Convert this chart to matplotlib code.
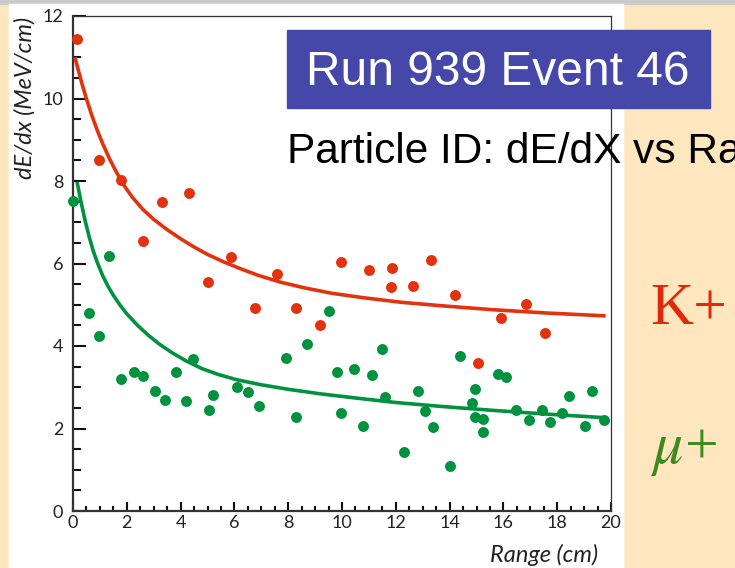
import matplotlib
matplotlib.use("Agg")
import matplotlib.pyplot as plt
from matplotlib.patches import Rectangle
from matplotlib.ticker import MultipleLocator

# measured points: range (cm), dE/dx (MeV/cm)
kaon_range = [0.15, 0.97, 1.78, 2.6, 3.3, 4.3, 5.0, 5.87, 6.77, 7.58, 8.3, 9.2,
              9.96, 11.0, 11.86, 11.83, 12.64, 13.3, 14.2, 15.06, 15.9, 16.84, 17.55]
kaon_dedx = [11.44, 8.5, 8.02, 6.55, 7.49, 7.71, 5.55, 6.16, 4.92, 5.75, 4.92, 4.5,
             6.04, 5.84, 5.89, 5.43, 5.45, 6.08, 5.24, 3.59, 4.68, 5.02, 4.32]

muon_range = [0.0, 0.6, 0.97, 1.34, 1.78, 2.27, 2.6, 3.05, 3.42, 3.83, 4.2, 4.46,
              5.06, 5.2, 6.1, 6.5, 6.9, 7.9, 8.3, 8.7, 9.52, 9.8, 9.96, 10.45,
              10.78, 11.1, 11.5, 11.6, 12.3, 12.83, 13.1, 13.38, 14.0, 14.4, 14.83,
              14.94, 14.94, 15.24, 15.24, 15.8, 16.1, 16.47, 16.95, 17.43, 17.73,
              18.18, 18.44, 19.03, 19.3, 19.74]
muon_dedx = [7.52, 4.8, 4.24, 6.18, 3.2, 3.37, 3.27, 2.91, 2.69, 3.37, 2.67, 3.68,
             2.45, 2.81, 3.0, 2.88, 2.55, 3.71, 2.28, 4.05, 4.85, 3.37, 2.38, 3.44,
             2.06, 3.3, 3.93, 2.76, 1.43, 2.91, 2.42, 2.04, 1.09, 3.76, 2.62,
             2.96, 2.28, 2.23, 1.92, 3.32, 3.25, 2.45, 2.2, 2.45, 2.16,
             2.38, 2.79, 2.06, 2.91, 2.2]

# expected range-energy curves
kaon_curve_x = [0.07, 0.2, 0.35, 0.5, 0.7, 0.9, 1.1, 1.35, 1.6, 1.9, 2.2, 2.6, 3.0, 3.5,
                4.0, 4.5, 5.0, 5.6, 6.2, 6.9, 7.7, 8.6, 9.6, 10.8, 12.2, 13.8, 15.6,
                17.6, 19.8]
kaon_curve_y = [11.0, 10.68, 10.32, 9.99, 9.59, 9.23, 8.91, 8.55, 8.23, 7.89, 7.61, 7.31,
                7.07, 6.82, 6.60, 6.40, 6.22, 6.04, 5.88, 5.71, 5.55, 5.41, 5.28, 5.17,
                5.06, 4.97, 4.88, 4.80, 4.73]
muon_curve_x = [0.15, 0.3, 0.45, 0.6, 0.75, 0.9, 1.1, 1.3, 1.5, 1.75, 2.0, 2.4, 2.8, 3.2,
                3.7, 4.2, 4.8, 5.4, 6.1, 7.0, 8.0, 9.2, 10.5, 12.0, 13.6, 15.6, 17.6, 19.8]
muon_curve_y = [7.98, 7.49, 7.04, 6.65, 6.31, 6.03, 5.71, 5.45, 5.23, 4.99, 4.78, 4.50,
                4.26, 4.05, 3.83, 3.64, 3.45, 3.31, 3.18, 3.06, 2.95, 2.84, 2.74, 2.63,
                2.54, 2.44, 2.35, 2.26]

red = '#E2320E'
green = '#00923F'

plt.rcParams['mathtext.fontset'] = 'stix'

fig = plt.figure(figsize=(7.35, 5.68), dpi=100)
fig.patch.set_facecolor('#FEE7BE')

W, H = 735.0, 568.0
# slide pieces: grey strip on top, white panel behind the plot
fig.patches.append(Rectangle((0, 1 - 4 / H), 1, 4 / H, transform=fig.transFigure,
                             color='#CACACA', zorder=-2))
fig.patches.append(Rectangle((9 / W, 0), (623 - 9) / W, 1 - 4 / H, transform=fig.transFigure,
                             color='white', zorder=-2))

ax = fig.add_axes([73 / W, 1 - 511 / H, (611 - 73) / W, (511 - 16) / H])
ax.set_facecolor('none')
ax.set_zorder(1)

ax.plot(kaon_curve_x, kaon_curve_y, color=red, lw=2.6, solid_capstyle='butt',
        solid_joinstyle='round', zorder=3)
ax.plot(muon_curve_x, muon_curve_y, color=green, lw=2.6, solid_capstyle='butt',
        solid_joinstyle='round', zorder=3)
ax.scatter(kaon_range, kaon_dedx, s=62, color=red, linewidths=0, zorder=4, clip_on=False)
ax.scatter(muon_range, muon_dedx, s=62, color=green, linewidths=0, zorder=4, clip_on=False)

ax.set_xlim(0, 20)
ax.set_ylim(0, 12)
ax.xaxis.set_major_locator(MultipleLocator(2))
ax.xaxis.set_minor_locator(MultipleLocator(0.5))
ax.yaxis.set_major_locator(MultipleLocator(2))
ax.yaxis.set_minor_locator(MultipleLocator(0.5))

for side in ['left', 'bottom']:
    ax.spines[side].set_linewidth(1.6)
    ax.spines[side].set_color('#333333')
for side in ['top', 'right']:
    ax.spines[side].set_linewidth(0.9)
    ax.spines[side].set_color('#333333')

ax.tick_params(axis='y', which='major', direction='in', length=9.5, width=1.5,
               color='#111111', pad=7, labelsize=13, labelcolor='#222222')
ax.tick_params(axis='y', which='minor', direction='in', length=6, width=1.5, color='#111111')
ax.tick_params(axis='x', which='major', direction='in', length=6.5, width=1.5,
               color='#111111', pad=3, labelsize=13, labelcolor='#222222')
ax.tick_params(axis='x', which='minor', direction='in', length=3.3, width=1.5, color='#111111')
for lab in ax.get_xticklabels() + ax.get_yticklabels():
    lab.set_family('Lato')

fig.text(25 / W, 1 - 17 / H, 'dE/dx (MeV/cm)', rotation=90, ha='center', va='top',
         fontsize=17, style='italic', family='Lato', color='#222222')
fig.text(598 / W, 1 - 562 / H, 'Range (cm)', ha='right', va='baseline',
         fontsize=17, style='italic', family='Lato', color='#222222')

# slide title box and labels
fig.patches.append(Rectangle((287 / W, 1 - 108 / H), (710 - 287) / W, 78 / H,
                             transform=fig.transFigure, color='#4547A9', zorder=5))
fig.text(498 / W, 1 - 85 / H, 'Run 939 Event 46', ha='center', va='baseline',
         fontsize=34.5, family='Liberation Sans', color='white', zorder=6)
fig.text(287 / W, 1 - 163 / H, 'Particle ID: dE/dX vs Range', ha='left', va='baseline',
         fontsize=30.5, family='Liberation Sans', color='black', zorder=6)

fig.text(650 / W, 1 - 324 / H, 'K+', ha='left', va='baseline',
         fontsize=43, family='Liberation Serif', color='#E0280C', zorder=6)
fig.text(651 / W, 1 - 463 / H, r'$\mu$+', ha='left', va='baseline',
         fontsize=43, family='Liberation Serif', color='#3F8A1F', zorder=6)

fig.savefig('out.png', dpi=100)
